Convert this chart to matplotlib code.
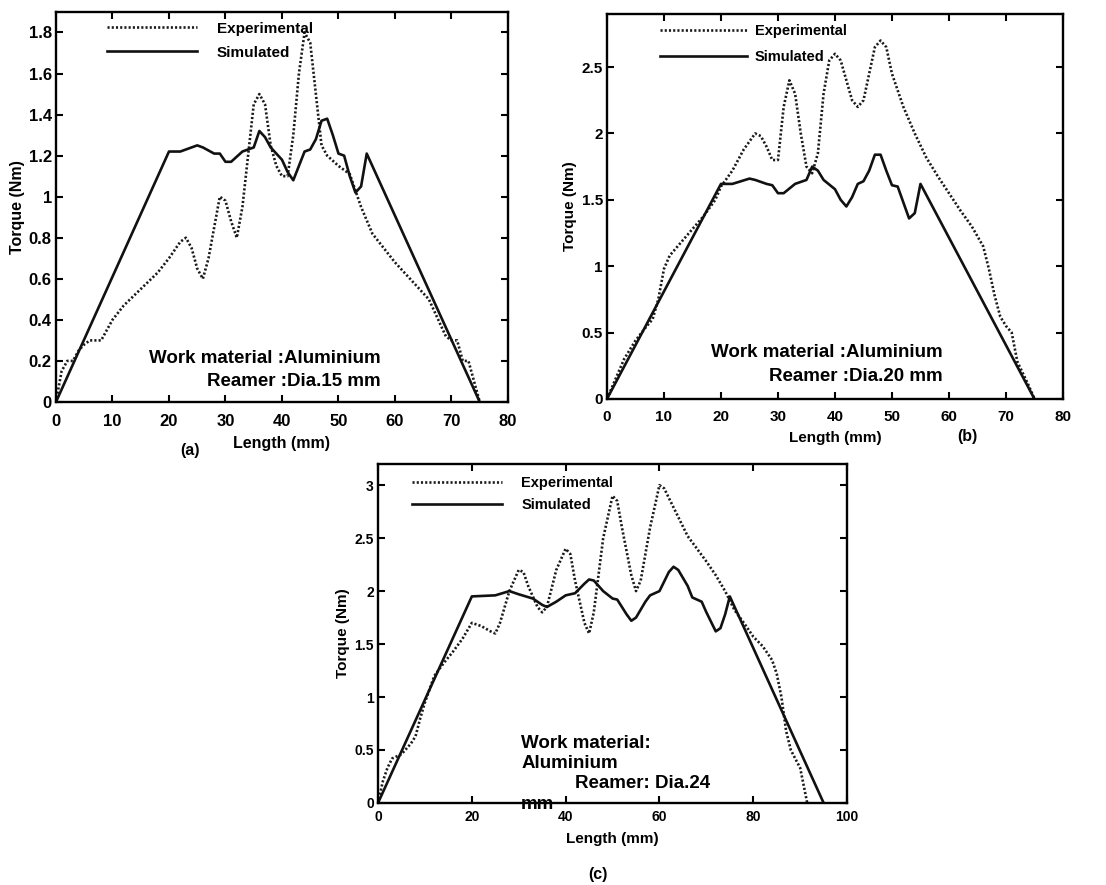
import matplotlib
matplotlib.use("Agg")
import matplotlib.pyplot as plt

plt.rcParams['font.family'] = ['Liberation Sans', 'DejaVu Sans']
plt.rcParams['font.weight'] = 'bold'

# ---------------- data ----------------
# Panel (a): Dia. 15 mm
a_sim_x = [0, 20, 22, 23, 25, 26, 28, 29, 30, 31, 33, 34, 35, 36, 37, 38, 39, 40, 41, 42,
           43, 44, 45, 46, 47, 48, 49, 50, 51, 52, 53, 54, 55, 75]
a_sim_y = [0, 1.22, 1.22, 1.23, 1.25, 1.24, 1.21, 1.21, 1.17, 1.17, 1.22, 1.23, 1.24, 1.32, 1.29,
           1.24, 1.21, 1.18, 1.12, 1.08, 1.15, 1.22, 1.23, 1.28, 1.37, 1.38, 1.30, 1.21, 1.20,
           1.10, 1.02, 1.05, 1.21, 0]
a_exp_x = [0, 1, 2, 3, 4, 5, 6, 8, 9, 10, 12, 15, 18, 20, 22, 23, 24, 25, 26, 27, 28, 29, 30,
           31, 32, 33, 34, 35, 36, 37, 38, 39, 40, 41, 42, 43, 44, 45, 46, 47, 48, 50, 52, 54,
           56, 58, 60, 62, 64, 66, 68, 69, 70, 71, 72, 73, 74, 75]
a_exp_y = [0, 0.15, 0.2, 0.2, 0.25, 0.28, 0.3, 0.3, 0.35, 0.4, 0.47, 0.55, 0.63, 0.7, 0.78,
           0.8, 0.75, 0.65, 0.6, 0.7, 0.85, 1.0, 0.98, 0.88, 0.8, 0.95, 1.2, 1.45, 1.5, 1.45,
           1.25, 1.15, 1.1, 1.1, 1.3, 1.6, 1.8, 1.75, 1.5, 1.25, 1.2, 1.15, 1.11, 0.95, 0.82,
           0.75, 0.68, 0.62, 0.56, 0.5, 0.38, 0.32, 0.3, 0.3, 0.2, 0.2, 0.1, 0]

# Panel (b): Dia. 20 mm
b_sim_x = [0, 20, 22, 25, 26, 28, 29, 30, 31, 33, 35, 36, 37, 38, 40, 41, 42, 43, 44, 45, 46,
           47, 48, 49, 50, 51, 52, 53, 54, 55, 75]
b_sim_y = [0, 1.62, 1.62, 1.66, 1.65, 1.62, 1.61, 1.55, 1.55, 1.62, 1.65, 1.75, 1.72, 1.65,
           1.58, 1.5, 1.45, 1.52, 1.62, 1.64, 1.72, 1.84, 1.84, 1.72, 1.61, 1.6, 1.48, 1.36,
           1.4, 1.62, 0]
b_exp_x = [0, 3, 5, 7, 8, 9, 10, 11, 13, 15, 17, 19, 20, 22, 24, 26, 27, 28, 29, 30, 31, 32,
           33, 34, 35, 36, 37, 38, 39, 40, 41, 42, 43, 44, 45, 46, 47, 48, 49, 50, 52, 54, 56,
           58, 60, 62, 64, 66, 67, 68, 69, 70, 71, 72, 74, 75]
b_exp_y = [0, 0.3, 0.44, 0.55, 0.6, 0.75, 0.98, 1.08, 1.18, 1.28, 1.38, 1.5, 1.6, 1.72, 1.88,
           2.0, 1.98, 1.9, 1.8, 1.8, 2.2, 2.4, 2.3, 2.0, 1.75, 1.7, 1.85, 2.3, 2.55, 2.6, 2.55,
           2.4, 2.25, 2.2, 2.25, 2.45, 2.65, 2.7, 2.65, 2.45, 2.2, 2.0, 1.82, 1.68, 1.55, 1.42,
           1.3, 1.15, 0.98, 0.78, 0.62, 0.55, 0.5, 0.28, 0.1, 0]

# Panel (c): Dia. 24 mm
c_sim_x = [0, 20, 25, 28, 30, 33, 35, 36, 38, 40, 42, 44, 45, 46, 48, 50, 51, 53, 54, 55, 57,
           58, 60, 62, 63, 64, 66, 67, 69, 70, 72, 73, 74, 75, 95]
c_sim_y = [0, 1.95, 1.96, 2.0, 1.97, 1.93, 1.87, 1.85, 1.9, 1.96, 1.98, 2.07, 2.11, 2.1, 2.0,
           1.93, 1.92, 1.78, 1.72, 1.75, 1.9, 1.96, 2.0, 2.18, 2.23, 2.2, 2.05, 1.94, 1.9, 1.8,
           1.62, 1.65, 1.78, 1.95, 0]
c_exp_x = [0, 1, 2, 3, 5, 7, 8, 9, 10, 12, 14, 16, 18, 20, 22, 24, 25, 26, 28, 30, 31, 32, 34,
           35, 36, 38, 40, 41, 42, 44, 45, 46, 48, 50, 51, 52, 54, 55, 56, 58, 60, 61, 62, 64,
           66, 68, 70, 72, 74, 76, 78, 80, 82, 84, 85, 86, 87, 88, 90, 91.5]
c_exp_y = [0, 0.2, 0.33, 0.42, 0.46, 0.56, 0.63, 0.8, 0.95, 1.2, 1.32, 1.43, 1.55, 1.7, 1.67,
           1.62, 1.6, 1.7, 2.0, 2.2, 2.18, 2.05, 1.85, 1.8, 1.85, 2.2, 2.4, 2.35, 2.1, 1.7, 1.6,
           1.8, 2.5, 2.9, 2.85, 2.6, 2.15, 2.0, 2.1, 2.6, 3.0, 2.97, 2.88, 2.7, 2.52, 2.4,
           2.28, 2.15, 2.0, 1.82, 1.7, 1.57, 1.48, 1.35, 1.22, 1.0, 0.68, 0.5, 0.33, 0]

a_xticks = [0, 10, 20, 30, 40, 50, 60, 70, 80]
a_yticks = [0, 0.2, 0.4, 0.6, 0.8, 1, 1.2, 1.4, 1.6, 1.8]
b_xticks = [0, 10, 20, 30, 40, 50, 60, 70, 80]
b_yticks = [0, 0.5, 1, 1.5, 2, 2.5]
c_xticks = [0, 20, 40, 60, 80, 100]
c_yticks = [0, 0.5, 1, 1.5, 2, 2.5, 3]

# ---------------- figure ----------------
fig = plt.figure(figsize=(11.06, 8.85), dpi=100)

def fmt(v):
    return ('%g' % v)

def style(ax, xlim, ylim, xticks, yticks, tsize, lsize, xpad, xlpad):
    ax.set_xlim(*xlim)
    ax.set_ylim(*ylim)
    ax.set_xticks(xticks)
    ax.set_xticklabels([fmt(v) for v in xticks], fontsize=tsize, fontweight='bold')
    ax.set_yticks(yticks)
    ax.set_yticklabels([fmt(v) for v in yticks], fontsize=tsize, fontweight='bold')
    ax.tick_params(direction='in', length=5, width=1.5, top=True, right=True)
    ax.tick_params(axis='x', pad=xpad)
    ax.tick_params(axis='y', pad=3)
    for s in ax.spines.values():
        s.set_linewidth(1.7)
    ax.set_xlabel('Length (mm)', fontsize=lsize, fontweight='bold', labelpad=xlpad)
    ax.set_ylabel('Torque (Nm)', fontsize=lsize, fontweight='bold', labelpad=3)

def legend(ax, x, y, spacing, size, hl, pad):
    ax.legend(loc='upper left', bbox_to_anchor=(x, y), frameon=False,
              handlelength=hl, handletextpad=pad, labelspacing=spacing,
              borderpad=0, borderaxespad=0,
              prop={'size': size, 'weight': 'bold', 'family': 'Liberation Sans'})

lw = 1.9
dot = (0, (0.8, 0.8))

# (a)
axa = fig.add_axes([0.0506, 0.5458, 0.4087, 0.4407])
axa.plot(a_exp_x, a_exp_y, color='#1a1a1a', lw=lw, ls=dot, label='Experimental')
axa.plot(a_sim_x, a_sim_y, color='#111111', lw=lw, label='Simulated')
style(axa, (0, 80), (0, 1.9), a_xticks, a_yticks, 12, 11.5, 8.5, 5)
legend(axa, 0.113, 0.975, 0.65, 11, 5.9, 1.3)
axa.text(57.4, 0.21, 'Work material :Aluminium', ha='right', va='center',
         fontsize=13.5, fontweight='bold')
axa.text(57.4, 0.10, 'Reamer :Dia.15 mm', ha='right', va='center',
         fontsize=13.5, fontweight='bold')

# (b)
axb = fig.add_axes([0.5488, 0.5492, 0.4123, 0.4350])
axb.plot(b_exp_x, b_exp_y, color='#1a1a1a', lw=lw, ls=dot, label='Experimental')
axb.plot(b_sim_x, b_sim_y, color='#111111', lw=lw, label='Simulated')
style(axb, (0, 80), (0, 2.9), b_xticks, b_yticks, 11, 11, 8, 5)
legend(axb, 0.116, 0.975, 0.85, 10.5, 6.0, 0.5)
axb.text(58.9, 0.35, 'Work material :Aluminium', ha='right', va='center',
         fontsize=13.5, fontweight='bold')
axb.text(58.9, 0.17, 'Reamer :Dia.20 mm', ha='right', va='center',
         fontsize=13.5, fontweight='bold')

# (c)
axc = fig.add_axes([0.3418, 0.0927, 0.4241, 0.3830])
axc.plot(c_exp_x, c_exp_y, color='#1a1a1a', lw=lw, ls=dot, label='Experimental')
axc.plot(c_sim_x, c_sim_y, color='#111111', lw=lw, label='Simulated')
style(axc, (0, 100), (0, 3.2), c_xticks, c_yticks, 10, 11, 5, 6)
legend(axc, 0.072, 0.965, 0.55, 10.5, 6.2, 1.3)
axc.text(30.5, 0.56, 'Work material:', ha='left', va='center', fontsize=13.5, fontweight='bold')
axc.text(30.5, 0.37, 'Aluminium', ha='left', va='center', fontsize=13.5, fontweight='bold')
axc.text(42.0, 0.18, 'Reamer: Dia.24', ha='left', va='center', fontsize=13.5, fontweight='bold')
axc.text(30.5, -0.01, 'mm', ha='left', va='center', fontsize=13.5, fontweight='bold')

# panel labels
fig.text(190 / 1106, 1 - 450 / 885, '(a)', ha='center', va='center', fontsize=11.5, fontweight='bold')
fig.text(967 / 1106, 1 - 437 / 885, '(b)', ha='center', va='center', fontsize=11.5, fontweight='bold')
fig.text(598 / 1106, 1 - 875 / 885, '(c)', ha='center', va='center', fontsize=11.5, fontweight='bold')

fig.savefig('out.png', dpi=100)
